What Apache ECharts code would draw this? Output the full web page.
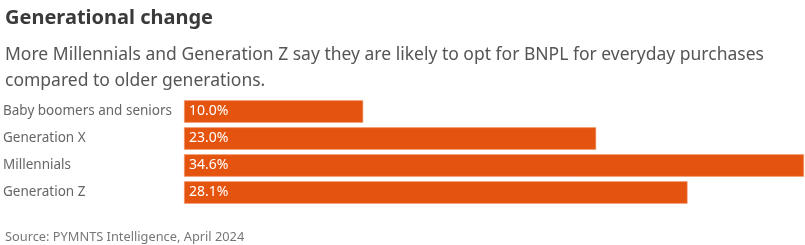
<!DOCTYPE html>
<html><head><meta charset="utf-8">
<script src="https://cdn.jsdelivr.net/npm/echarts@6/dist/echarts.min.js"></script>
<style>html,body{margin:0;padding:0;background:#fff}#c{width:805px;height:245px}</style>
</head><body><div id="c"></div>
<script>
const categories = ["Baby boomers and seniors", "Generation X", "Millennials", "Generation Z"];
const values = [10.0, 23.0, 34.6, 28.1];
const titleText = "Generational change";
const subtitleText = "More Millennials and Generation Z say they are likely to opt for BNPL for everyday purchases\ncompared to older generations.";
const sourceText = "Source: PYMNTS Intelligence, April 2024";

const FONT = "'Noto Sans', sans-serif";
const chart = echarts.init(document.getElementById('c'), null, {renderer: 'canvas'});
chart.setOption({
  animation: false,
  textStyle: {fontFamily: FONT},
  title: [
    {text: titleText, left: 0, top: 3, textStyle: {fontFamily: FONT, fontSize: 20, fontWeight: 'bold', color: '#3a3a3a'}},
    {text: subtitleText, left: 0, top: 37, textStyle: {fontFamily: FONT, fontSize: 17.5, fontWeight: 'normal', color: '#555', lineHeight: 26}},
    {text: sourceText, left: 0, top: 226, textStyle: {fontFamily: FONT, fontSize: 12.8, fontWeight: 'normal', color: '#777'}}
  ],
  grid: {left: 183, right: 1, top: 98, height: 108, containLabel: false},
  xAxis: {type: 'value', min: 0, max: 34.6, show: false},
  yAxis: {
    type: 'category', data: categories, inverse: true,
    axisLine: {show: false}, axisTick: {show: false},
    axisLabel: {align: 'left', margin: 181, fontSize: 13.5, color: '#666', fontFamily: FONT}
  },
  series: [{
    type: 'bar', data: values, barCategoryGap: '17%',
    itemStyle: {color: '#E5540E', borderColor: '#f39a6e', borderWidth: 0.6},
    label: {show: true, position: 'insideLeft', distance: 5, color: '#fff', fontSize: 14, fontFamily: FONT,
      formatter: p => p.value.toFixed(1) + '%'}
  }]
});
</script></body></html>
